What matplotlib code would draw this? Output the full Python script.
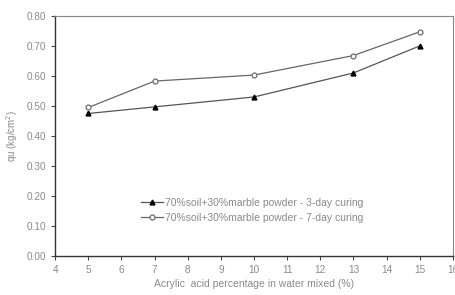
import numpy as np
import matplotlib.pyplot as plt

# data
acid_pct = [5, 7, 10, 13, 15]
qu_3day = [0.475, 0.497, 0.530, 0.610, 0.700]
qu_7day = [0.495, 0.583, 0.603, 0.668, 0.747]
label_3day = '70%soil+30%marble powder - 3-day curing'
label_7day = '70%soil+30%marble powder - 7-day curing'

txt = '#8a8a8a'
plt.rcParams['font.family'] = 'Liberation Sans'

fig = plt.figure(figsize=(4.56, 2.95), dpi=100)
ax = fig.add_axes([0.121, 0.132, 0.872, 0.814])

ax.plot(acid_pct, qu_3day, color='#555555', lw=0.9, marker='^', ms=3.5,
        mfc='black', mec='black', label=label_3day)
ax.plot(acid_pct, qu_7day, color='#666666', lw=0.9, marker='o', ms=3.5,
        mfc='white', mec='#777777', label=label_7day)

ax.set_xlim(4, 16)
ax.set_ylim(0, 0.8)
ax.set_xticks(np.arange(4, 17, 1))
ax.set_yticks(np.arange(0, 0.81, 0.1))
ax.set_yticklabels(['%.2f' % v for v in np.arange(0, 0.81, 0.1)])
ax.tick_params(direction='out', length=3, width=0.8, labelsize=7.2,
               colors='#444444', labelcolor=txt)

for s in ['left', 'bottom']:
    ax.spines[s].set_color('#333333')
    ax.spines[s].set_linewidth(1.0)
for s in ['top', 'right']:
    ax.spines[s].set_color('#888888')
    ax.spines[s].set_linewidth(0.8)

ax.set_xlabel('Acrylic  acid percentage in water mixed (%)', fontsize=7.5,
              color=txt, labelpad=3)
ax.set_ylabel('qu (kg/cm$^2$)', fontsize=7, color=txt, labelpad=5)

leg = ax.legend(loc='lower center', bbox_to_anchor=(0.495, 0.1), frameon=False,
                fontsize=7.5, handlelength=2.1, handletextpad=0.15,
                labelspacing=0.45, labelcolor=txt)

fig.savefig('out.png', dpi=100)
